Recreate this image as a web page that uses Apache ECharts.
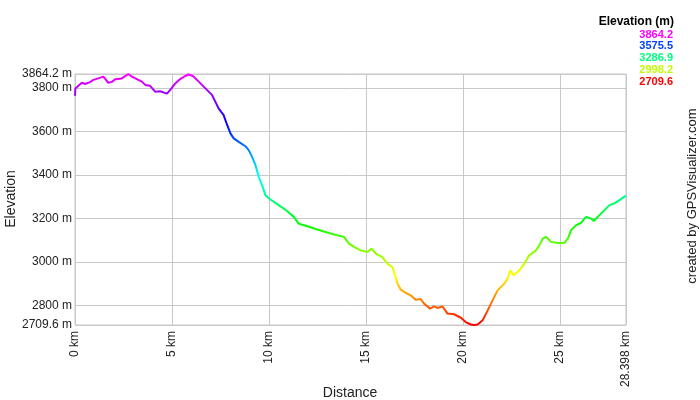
<!DOCTYPE html>
<html><head><meta charset="utf-8">
<script src="https://cdn.jsdelivr.net/npm/echarts@6/dist/echarts.min.js"></script>
<style>html,body{margin:0;padding:0;background:#fff}#c{width:700px;height:400px}</style>
</head><body><div id="c"></div>
<script>
const distanceKm = [0,0.02,0.35,0.52,0.77,0.95,1.20,1.46,1.55,1.72,1.90,2.07,2.41,2.75,2.93,3.19,3.45,3.62,3.87,4.13,4.39,4.74,4.91,5.17,5.42,5.68,5.85,6.08,6.29,6.54,6.80,7.06,7.23,7.40,7.66,7.80,8.01,8.18,8.44,8.78,8.95,9.13,9.30,9.47,9.64,9.81,10.07,10.50,10.93,11.28,11.53,11.97,12.48,13.00,13.52,13.86,14.12,14.38,14.72,15.07,15.29,15.50,15.84,16.10,16.36,16.53,16.62,16.79,17.05,17.30,17.56,17.82,17.99,18.30,18.51,18.68,18.94,19.20,19.54,19.89,20.14,20.40,20.55,20.75,21.01,21.27,21.52,21.78,22.12,22.30,22.43,22.61,22.90,23.16,23.41,23.76,23.93,24.11,24.28,24.54,24.88,25.22,25.40,25.57,25.83,26.08,26.34,26.60,26.74,27.03,27.29,27.55,27.80,28.06,28.398];
const elevationM = [3764,3798,3824,3818,3827,3837,3844,3852,3850,3824,3828,3840,3844,3864.2,3852,3841,3829,3814,3810,3783,3785,3774,3791,3821,3841,3855,3862,3855,3837,3814,3791,3768,3737,3706,3675,3640,3591,3568,3552,3532,3514,3483,3445,3391,3353,3307,3287,3261,3234,3207,3176,3164,3149,3135,3122,3115,3084,3069,3053,3045,3061,3038,3022,2992,2975,2930,2900,2872,2857,2846,2826,2829,2808,2785,2795,2788,2795,2762,2759,2743,2723,2712,2709.6,2712,2731,2777,2823,2869,2900,2923,2961,2938,2961,2992,3030,3053,3076,3107,3115,3092,3087,3087,3107,3146,3169,3179,3207,3199,3188,3215,3238,3261,3269,3284,3305];
const yTicks = [2709.6,2800,3000,3200,3400,3600,3800,3864.2];
const xTicks = [0,5,10,15,20,25,28.398];
const legendValues = ['3864.2','3575.5','3286.9','2998.2','2709.6'];
const legendColors = ['#ff00ff','#0040ff','#00ff80','#bfff00','#ff0000'];
const hueColors = ['#ff0000','#ff8000','#ffff00','#80ff00','#00ff00','#00ff80','#00ffff','#0080ff','#0000ff','#8000ff','#ff00ff'];
const xAxisName = 'Distance';
const yAxisName = 'Elevation';

const chart = echarts.init(document.getElementById('c'));
const font = 'Liberation Sans, Arial, sans-serif';
const graphics = [{
  type:'text', x: 674, y: 16,
  style:{text:'Elevation (m)', font:'bold 12px ' + font, fill:'#000', align:'right', letterSpacing:0.5}
}];
legendValues.forEach((v,i)=>{
  graphics.push({type:'text', x: 673, y: 29 + i*11.8,
    style:{text:v, font:'bold 11px ' + font, fill:legendColors[i], align:'right', letterSpacing:0.8}});
});
graphics.push({type:'text', x: 692, y: 196, rotation: Math.PI/2,
  style:{text:'created by GPSVisualizer.com', font:'13px ' + font, fill:'#222', align:'center', verticalAlign:'middle'}});
graphics.push({type:'text', x: 350, y: 393,
  style:{text:xAxisName, font:'14px ' + font, fill:'#222', align:'center', verticalAlign:'middle'}});
graphics.push({type:'text', x: 11, y: 199, rotation: Math.PI/2,
  style:{text:yAxisName, font:'14px ' + font, fill:'#222', align:'center', verticalAlign:'middle'}});

chart.setOption({
  animation:false,
  grid:{left:75, right:74, top:74, bottom:75, outerBoundsMode:'none', containLabel:false,
    show:true, borderColor:'#c8c8c8', borderWidth:1},
  xAxis:{type:'value', min:0, max:28.398,
    axisLine:{show:false}, axisTick:{show:false, customValues:xTicks},
    axisLabel:{customValues:xTicks, rotate:90, margin:6, fontFamily:font, fontSize:12, color:'#222',
      formatter:v=>v+' km'},
    splitLine:{show:true, lineStyle:{color:'#c8c8c8', width:1}}},
  yAxis:{type:'value', min:2709.6, max:3864.2,
    axisLine:{show:false}, axisTick:{show:false, customValues:yTicks},
    axisLabel:{customValues:yTicks, margin:3, fontFamily:font, fontSize:12, color:'#222',
      formatter:v=>v+' m'},
    splitLine:{show:true, lineStyle:{color:'#c8c8c8', width:1}}},
  visualMap:{show:false, type:'continuous', seriesIndex:0, dimension:1, min:2709.6, max:3864.2,
    inRange:{color:hueColors}},
  series:[{type:'line', showSymbol:false, symbol:'none', lineStyle:{width:2},
    data: distanceKm.map((d,i)=>[d, elevationM[i]])}],
  graphic: graphics
});
</script></body></html>
